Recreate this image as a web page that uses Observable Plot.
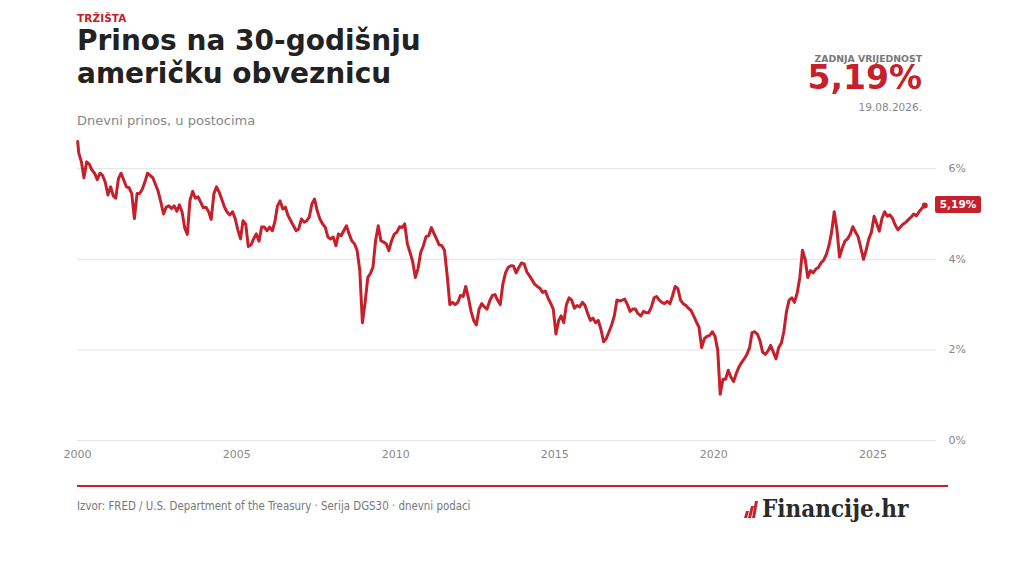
<!DOCTYPE html>
<html>
<head>
<meta charset="utf-8">
<script src="https://cdn.jsdelivr.net/npm/d3@7"></script>
<script src="https://cdn.jsdelivr.net/npm/@observablehq/plot@0.6"></script>
<style>
  html, body { margin: 0; padding: 0; background: #fff; }
  #page { position: relative; width: 1024px; height: 576px; overflow: hidden; font-family: "DejaVu Sans", sans-serif; background: #fff; }
  .abs { position: absolute; white-space: nowrap; }
  #kicker { left: 77px; top: 11.5px; font-size: 10.5px; font-weight: bold; color: #c5202b; letter-spacing: 0.1px; }
  #title { left: 77px; top: 24px; font-size: 28px; font-weight: bold; color: #222; line-height: 33px; }
  #subtitle { left: 77px; top: 113px; font-size: 13px; color: #888; }
  #lastLabel { right: 102px; top: 54px; font-size: 9.3px; line-height: 1; font-weight: bold; color: #777; text-align: right; }
  #lastValue { right: 102px; top: 64.5px; font-size: 33px; line-height: 0.8; font-weight: bold; color: #c5202b; text-align: right; }
  #lastDate { right: 102px; top: 101px; font-size: 10.5px; color: #888; text-align: right; }
  #chart { position: absolute; left: 0; top: 130px; }
  #endTag { position: absolute; left: 935px; width: 46px; height: 17px; background: #c5202b; border-radius: 2px; color: #fff; font-size: 10.5px; font-weight: bold; text-align: center; line-height: 17px; }
  #rule { left: 77px; top: 484.5px; width: 871px; height: 2.5px; background: #c5202b; }
  #source { left: 77px; top: 499px; font-family: "DejaVu Sans Condensed", "DejaVu Sans", sans-serif; font-stretch: condensed; font-size: 11.4px; color: #777; }
  #logo { left: 744px; top: 494px; display: flex; align-items: center; }
  #logoText { font-family: "DejaVu Serif Condensed", "DejaVu Serif", serif; font-stretch: condensed; font-weight: bold; font-size: 24px; color: #2b2b2b; margin-left: 4px; }
</style>
</head>
<body>
<div id="page">
  <div id="kicker" class="abs"></div>
  <div id="title" class="abs"></div>
  <div id="subtitle" class="abs"></div>
  <div id="lastLabel" class="abs"></div>
  <div id="lastValue" class="abs"></div>
  <div id="lastDate" class="abs"></div>
  <div id="chart"></div>
  <div id="rule" class="abs"></div>
  <div id="source" class="abs"></div>
  <div id="logo" class="abs">
    <svg width="14" height="18" viewBox="0 0 14 18">
      <polygon points="0,18 3,18 5,11 2,11" fill="#c5202b"/>
      <polygon points="4,18 7,18 10,6 7,6" fill="#c5202b"/>
      <polygon points="8,18 11,18 14,1 11,1" fill="#c5202b"/>
    </svg>
    <span id="logoText"></span>
  </div>
</div>
<script>
// ---- Texts ----
const kickerText = "TRŽIŠTA";
const titleLines = ["Prinos na 30-godišnju", "američku obveznicu"];
const subtitleText = "Dnevni prinos, u postocima";
const lastLabelText = "ZADNJA VRIJEDNOST";
const sourceText = "Izvor: FRED / U.S. Department of the Treasury · Serija DGS30 · dnevni podaci";
const logoText = "Financije.hr";

// ---- Axis ticks ----
const yTicks = [0, 2, 4, 6];
const xTickYears = [2000, 2005, 2010, 2015, 2020, 2025];
const xDomainYears = [2000, 2027];
const yDomain = [0, 6.6];

// ---- Data: yield (%), mid-month, Jan..Dec ----
const firstPoint = { date: "2000-01-03", value: 6.60 };
const y2000 = [6.35, 6.15, 5.80, 6.15, 6.10, 5.97, 5.90, 5.76, 5.90, 5.85, 5.70, 5.42];
const y2001 = [5.60, 5.40, 5.35, 5.78, 5.90, 5.75, 5.60, 5.58, 5.45, 4.90, 5.45, 5.45];
const y2002 = [5.55, 5.72, 5.90, 5.85, 5.80, 5.65, 5.50, 5.26, 5.00, 5.15, 5.18, 5.12];
const y2003 = [5.18, 5.06, 5.20, 5.05, 4.70, 4.55, 5.30, 5.50, 5.35, 5.38, 5.26, 5.14];
const y2004 = [5.15, 5.05, 4.88, 5.45, 5.60, 5.48, 5.32, 5.15, 5.04, 4.98, 5.05, 4.90];
const y2005 = [4.65, 4.45, 4.85, 4.78, 4.28, 4.32, 4.45, 4.56, 4.40, 4.71, 4.71, 4.63];
const y2006 = [4.71, 4.63, 4.82, 5.18, 5.29, 5.11, 5.15, 4.96, 4.85, 4.74, 4.63, 4.67];
const y2007 = [4.89, 4.82, 4.85, 4.93, 5.22, 5.33, 5.07, 4.89, 4.78, 4.71, 4.49, 4.45];
const y2008 = [4.49, 4.30, 4.56, 4.52, 4.63, 4.74, 4.56, 4.41, 4.34, 4.20, 3.75, 2.60];
const y2009 = [3.05, 3.60, 3.68, 3.82, 4.41, 4.74, 4.41, 4.38, 4.34, 4.19, 4.41, 4.55];
const y2010 = [4.60, 4.72, 4.70, 4.78, 4.34, 4.15, 3.95, 3.60, 3.80, 4.15, 4.30, 4.50];
const y2011 = [4.52, 4.70, 4.58, 4.45, 4.32, 4.30, 4.20, 3.65, 3.00, 3.05, 3.00, 3.05];
const y2012 = [3.20, 3.18, 3.40, 3.15, 2.85, 2.65, 2.55, 2.90, 3.02, 2.95, 2.90, 3.08];
const y2013 = [3.20, 3.22, 3.10, 3.00, 3.45, 3.70, 3.82, 3.86, 3.85, 3.70, 3.82, 3.92];
const y2014 = [3.90, 3.72, 3.64, 3.55, 3.45, 3.40, 3.36, 3.27, 3.30, 3.15, 3.03, 2.90];
const y2015 = [2.35, 2.65, 2.75, 2.60, 3.00, 3.15, 3.10, 2.92, 2.98, 2.95, 3.05, 2.98];
const y2016 = [2.80, 2.65, 2.70, 2.60, 2.65, 2.45, 2.18, 2.25, 2.40, 2.55, 2.75, 3.10];
const y2017 = [3.08, 3.10, 3.12, 3.00, 2.85, 2.90, 2.90, 2.80, 2.75, 2.85, 2.82, 2.82];
const y2018 = [2.95, 3.15, 3.18, 3.10, 3.05, 3.02, 3.07, 3.02, 3.20, 3.40, 3.35, 3.10];
const y2019 = [3.02, 2.98, 2.92, 2.87, 2.75, 2.62, 2.50, 2.05, 2.25, 2.30, 2.32, 2.40];
const y2020 = [2.30, 2.00, 1.02, 1.35, 1.35, 1.55, 1.40, 1.30, 1.48, 1.62, 1.72, 1.80];
const y2021 = [1.90, 2.05, 2.38, 2.40, 2.35, 2.20, 1.95, 1.90, 1.98, 2.10, 1.95, 1.80];
const y2022 = [2.05, 2.15, 2.40, 2.85, 3.10, 3.15, 3.05, 3.25, 3.60, 4.20, 4.00, 3.60];
const y2023 = [3.75, 3.70, 3.78, 3.82, 3.92, 3.98, 4.10, 4.30, 4.60, 5.05, 4.65, 4.05];
const y2024 = [4.25, 4.40, 4.45, 4.55, 4.72, 4.60, 4.50, 4.25, 4.00, 4.20, 4.45, 4.60];
const y2025 = [4.95, 4.78, 4.62, 4.90, 5.05, 4.95, 4.98, 4.90, 4.75, 4.65, 4.72, 4.78];
const y2026 = [4.82, 4.88, 4.93, 5.00, 4.96, 5.05, 5.12];
const lastPoint = { date: "2026-08-19", value: 5.19 };

const byYear = [
  [2000, y2000], [2001, y2001], [2002, y2002], [2003, y2003], [2004, y2004],
  [2005, y2005], [2006, y2006], [2007, y2007], [2008, y2008], [2009, y2009],
  [2010, y2010], [2011, y2011], [2012, y2012], [2013, y2013], [2014, y2014],
  [2015, y2015], [2016, y2016], [2017, y2017], [2018, y2018], [2019, y2019],
  [2020, y2020], [2021, y2021], [2022, y2022], [2023, y2023], [2024, y2024],
  [2025, y2025], [2026, y2026]
];

const rows = [{ date: new Date(firstPoint.date), value: firstPoint.value }];
for (const [yr, vals] of byYear) {
  vals.forEach((v, i) => rows.push({ date: new Date(Date.UTC(yr, i, 15)), value: v }));
}
const last = { date: new Date(lastPoint.date), value: lastPoint.value };
rows.push(last);

const fmtPct = v => v.toFixed(2).replace(".", ",") + "%";
const fmtDate = d => d3.utcFormat("%d.%m.%Y.")(d);

// ---- Header / footer text ----
document.getElementById("kicker").textContent = kickerText;
document.getElementById("title").innerHTML = titleLines.join("<br>");
document.getElementById("subtitle").textContent = subtitleText;
document.getElementById("lastLabel").textContent = lastLabelText;
document.getElementById("lastValue").textContent = fmtPct(last.value);
document.getElementById("lastDate").textContent = fmtDate(last.date);
document.getElementById("source").textContent = sourceText;
document.getElementById("logoText").textContent = logoText;

const red = "#c5202b";
const chart = Plot.plot({
  width: 1024,
  height: 340,
  marginLeft: 77,
  marginRight: 88,
  marginTop: 11,
  marginBottom: 30,
  style: { fontFamily: "DejaVu Sans, sans-serif", fontSize: "11px", color: "#888", background: "transparent" },
  x: { type: "utc", domain: xDomainYears.map(y => new Date(Date.UTC(y, 0, 1))) },
  y: { domain: yDomain },
  marks: [
    Plot.gridY(yTicks, { stroke: "#e3e3e3", strokeOpacity: 1, strokeWidth: 1 }),
    Plot.axisY(yTicks, { anchor: "right", tickSize: 0, tickPadding: 12, tickFormat: d => d + "%", label: null, fill: "#888" }),
    Plot.axisX(xTickYears.map(y => new Date(Date.UTC(y, 0, 1))), { tickSize: 0, tickPadding: 10, tickFormat: d3.utcFormat("%Y"), label: null, fill: "#888" }),
    Plot.lineY(rows, { x: "date", y: "value", stroke: red, strokeWidth: 3, strokeLinejoin: "round" }),
    Plot.dot([last], { x: "date", y: "value", r: 3, fill: red })
  ]
});
document.getElementById("chart").appendChild(chart);

// end tag positioned from the chart's own y scale
const tag = document.createElement("div");
tag.id = "endTag";
tag.textContent = fmtPct(last.value);
const yPix = chart.scale("y").apply(last.value);
tag.style.top = (130 + yPix - 8.5) + "px";
document.getElementById("page").appendChild(tag);
</script>
</body>
</html>
